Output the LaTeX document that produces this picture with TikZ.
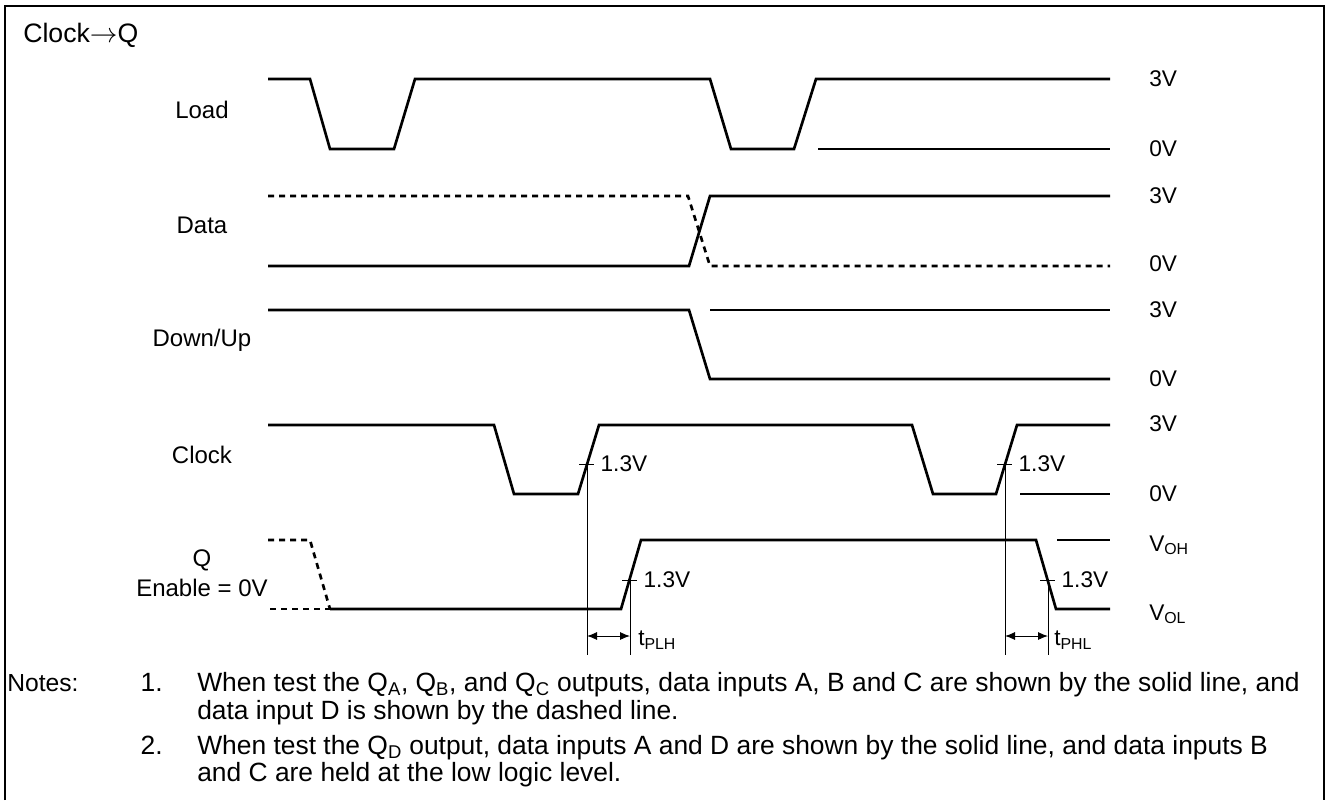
\documentclass[tikz,border=0pt]{standalone}
\usepackage{fontspec}
\setmainfont{Liberation Sans}
\usetikzlibrary{arrows.meta}

\begin{document}
\begin{tikzpicture}[x = 0.75pt, y = -0.75pt,
    wave/.style = {line width = 2pt, line join = miter},
    dwave/.style = {wave, dash pattern = on 4.5pt off 3.75pt},
    ref/.style = {line width = 0.8pt},
    txt/.style = {font = \fontsize{17}{20}\selectfont, inner sep = 0pt},
    sig/.style = {txt, font = \fontsize{18}{21}\selectfont},
    note/.style = {txt, font = \fontsize{19.8}{23}\selectfont},
    volt/.style = {txt, anchor = west},
    tick/.style = {line width = 0.7pt},
    span/.style = {line width = 0.7pt, {Latex[length = 7.5pt, width = 6pt]}-{Latex[length = 7.5pt, width = 6pt]}}]
    \useasboundingbox (0,0) rectangle (1327,800);
    \draw [line width = 2pt] (5,800) -- (5,6) -- (1324,6) -- (1324,800);
    \node [txt, font = \fontsize{20}{23}\selectfont, anchor = west] (title) at (23,35) {Clock$\rightarrow$Q};

    \node [sig] (load) at (202,110) {Load};
    \draw [wave] (268,79) -- (310,79) -- (330,149) -- (394,149) -- (415,79)
        -- (710,79) -- (731,149) -- (794,149) -- (816,79) -- (1110,79);
    \draw [ref] (818,149) -- (1110,149);
    \node [volt] (load3) at (1149,79) {3V};
    \node [volt] (load0) at (1149,149) {0V};

    \node [sig] (data) at (202,225) {Data};
    \draw [wave] (268,266) -- (689,266) -- (710,196) -- (1110,196);
    \draw [dwave] (268,196) -- (688,196) -- (710,266) -- (1110,266);
    \node [volt] (data3) at (1149,196) {3V};
    \node [volt] (data0) at (1149,264) {0V};

    \node [sig] (dnup) at (202,340) {Down/Up};
    \draw [wave] (268,310) -- (689,310) -- (710,379) -- (1110,379);
    \draw [ref] (710,310) -- (1110,310);
    \node [volt] (dnup3) at (1149,310) {3V};
    \node [volt] (dnup0) at (1149,379) {0V};

    \node [sig] (clk) at (202,455) {Clock};
    \draw [wave] (268,425) -- (494,425) -- (514,494) -- (578,494) -- (599,425)
        -- (912,425) -- (933,494) -- (996,494) -- (1017,425) -- (1110,425);
    \draw [ref] (1020,494) -- (1110,494);
    \node [volt] (clk3) at (1149,424) {3V};
    \node [volt] (clk0) at (1149,494) {0V};

    \node [sig] (q) at (202,560) {Q};
    \node [sig] (qen) at (202,588) {Enable = 0V};
    \draw [dwave] (268,540) -- (310,540) -- (330,609);
    \draw [dwave] (270,609) -- (330,609);
    \draw [wave] (330,609) -- (621,609) -- (641,540) -- (1036,540) -- (1056,609)
        -- (1110,609);
    \draw [ref] (1057,540) -- (1110,540);
    \node [volt] (voh) at (1149,545) {V\textsubscript{OH}};
    \node [volt] (vol) at (1149,614) {V\textsubscript{OL}};

    \coordinate (c1) at (587,464);
    \coordinate (c2) at (1005,464);
    \coordinate (q1) at (630,580);
    \coordinate (q2) at (1048,580);
    \foreach \p in {c1, c2, q1, q2} {
        \draw [tick] ([xshift = -6pt] \p) -- ([xshift = 5pt] \p);
        \draw [tick] (\p) -- (\p |- 0,655);
        \node [volt] at ([xshift = 10pt] \p) {1.3V};
    }
    \draw [span] (c1 |- 0,636) -- (q1 |- 0,636);
    \draw [span] (c2 |- 0,636) -- (q2 |- 0,636);
    \node [volt] (tplh) at (638,640) {t\textsubscript{PLH}};
    \node [volt] (tphl) at (1054,640) {t\textsubscript{PHL}};

    \node [txt, font = \fontsize{18.5}{22}\selectfont, anchor = base west] (notes) at (7,691) {Notes:};
    \node [note, anchor = base east] (n1) at (163,691) {1.};
    \node [note, anchor = base west] (n1a) at (197,691)
        {When test the Q\textsubscript{A}, Q\textsubscript{B}, and Q\textsubscript{C} outputs, data inputs A, B and C are shown by the solid line, and};
    \node [note, anchor = base west] (n1b) at (197,719) {data input D is shown by the dashed line.};
    \node [note, anchor = base east] (n2) at (163,754) {2.};
    \node [note, anchor = base west] (n2a) at (197,754)
        {When test the Q\textsubscript{D} output, data inputs A and D are shown by the solid line, and data inputs B};
    \node [note, anchor = base west] (n2b) at (197,781) {and C are held at the low logic level.};
\end{tikzpicture}
\end{document}
